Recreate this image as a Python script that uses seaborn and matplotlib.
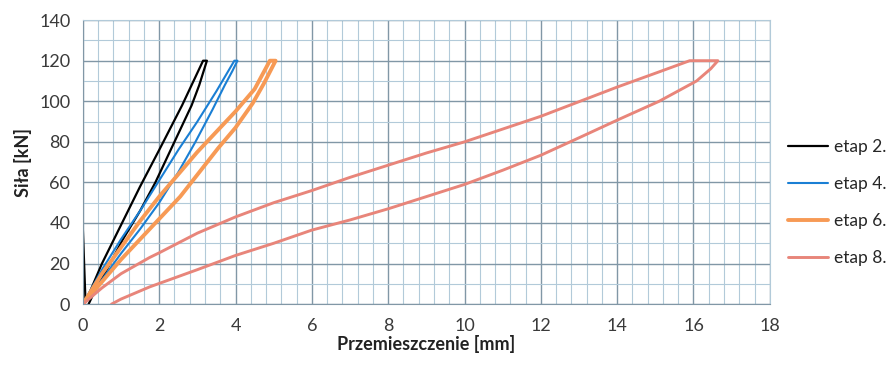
import numpy as np
import pandas as pd
import matplotlib
matplotlib.use("Agg")
import matplotlib.pyplot as plt
import seaborn as sns
from matplotlib.ticker import MultipleLocator

# etap 2. (black)
etap2_x = [0.0, 0.07, 0.5, 1.0, 1.5, 2.0, 2.6, 3.15, 3.25, 3.05, 2.85, 2.6, 2.3, 1.9, 1.5, 1.05, 0.6, 0.3, 0.15]
etap2_y = [37, 1, 20, 39, 58, 76, 98, 120, 120, 108, 98, 88, 76, 60, 46, 32, 16, 6, 0]

# etap 4. (blue)
etap4_x = [0.0, 0.5, 1.0, 1.5, 2.0, 2.5, 3.0, 3.5, 3.97, 4.05, 3.92, 3.72, 3.4, 2.95, 2.5, 2.0, 1.5, 1.0, 0.5, 0.0]
etap4_y = [0, 17, 32, 46, 61, 76, 90, 105, 120, 120, 115, 108, 96, 80, 65, 50, 37, 25, 12, 0]

# etap 6. (orange)
etap6_x = [0.0, 0.5, 1.0, 1.5, 2.0, 2.5, 3.0, 3.5, 4.0, 4.5, 4.9,
           5.05, 4.75, 4.45, 4.0, 3.55, 3.05, 2.55, 2.0, 1.5, 1.0, 0.5, 0.0]
etap6_y = [0, 15, 28, 41, 53, 64, 75, 85, 95, 106, 120,
           120, 109, 99, 87, 77, 65, 53, 42, 32, 22, 11, 0]

# etap 8. (salmon)
etap8_x = [0.0, 0.5, 1.0, 1.75, 2.0, 3.0, 4.0, 5.0, 6.0, 7.0, 8.0, 9.0, 10.0, 11.0, 12.0,
           13.0, 14.0, 15.1, 15.9, 16.64, 16.45, 16.08, 15.1, 14.0, 13.0, 12.0, 11.0, 10.0, 9.0,
           8.0, 7.0, 6.0, 5.0, 4.0, 3.0, 2.0, 1.75, 1.0, 0.75]
etap8_y = [0, 8, 15, 23, 25.3, 35, 43, 50, 56, 62.5, 68.5, 74.5, 80, 86.3, 92.6,
           99.8, 107, 114.5, 120, 120, 116, 110, 100, 90.7, 82, 73.4, 66, 59, 53,
           47, 41.5, 36.5, 30, 24, 17, 10.2, 8.5, 2.5, 0]

series = [
    ("etap 2.", etap2_x, etap2_y, "#000000", 1.6),
    ("etap 4.", etap4_x, etap4_y, "#1a7fd4", 1.5),
    ("etap 6.", etap6_x, etap6_y, "#f79a55", 2.8),
    ("etap 8.", etap8_x, etap8_y, "#e8857a", 2.1),
]

sns.set_style("white")
plt.rcParams['font.family'] = ['Lato', 'DejaVu Sans']

fig = plt.figure(figsize=(8.91, 3.66), dpi=100)
ax = fig.add_axes([0.093, 0.169, 0.771, 0.776])

for name, xs, ys, col, lw in series:
    df = pd.DataFrame({"x": xs, "y": ys})
    sns.lineplot(data=df, x="x", y="y", sort=False, color=col, lw=lw,
                 label=name, ax=ax, estimator=None)

ax.set_xlim(0, 18)
ax.set_ylim(0, 140)
ax.xaxis.set_major_locator(MultipleLocator(2))
ax.xaxis.set_minor_locator(MultipleLocator(0.4))
ax.yaxis.set_major_locator(MultipleLocator(20))
ax.yaxis.set_minor_locator(MultipleLocator(10))
ax.grid(which="major", color="#8197a6", lw=1.0)
ax.grid(which="minor", color="#b2cad9", lw=0.8)
ax.set_axisbelow(True)

for s in ["top", "right"]:
    ax.spines[s].set_color("#b2cad9")
for s in ["left", "bottom"]:
    ax.spines[s].set_color("#8197a6")

ax.tick_params(axis="x", which="major", length=5, color="#8197a6", direction="out",
               labelsize=13, labelcolor="#3a3a3a", pad=5)
ax.tick_params(axis="x", which="minor", length=0)
ax.tick_params(axis="y", which="both", length=0, labelsize=13, labelcolor="#3a3a3a", pad=9)

ax.set_xlabel("Przemieszczenie [mm]", fontsize=13, fontweight="bold", color="#222222", labelpad=1)
ax.set_ylabel("Siła [kN]", fontsize=13, fontweight="bold", color="#222222", labelpad=5)

ax.legend(loc="center left", bbox_to_anchor=(0.884, 0.447), bbox_transform=fig.transFigure,
          frameon=False, fontsize=12.5, handlelength=2.3, labelspacing=1.2,
          handletextpad=0.35, borderpad=0, borderaxespad=0)

fig.savefig("out.png", dpi=100)
